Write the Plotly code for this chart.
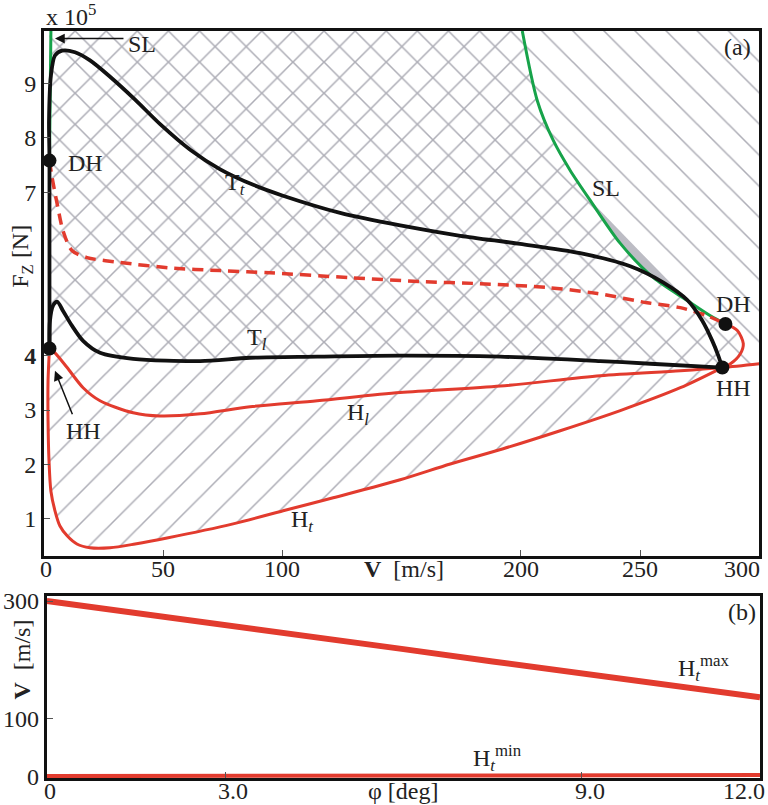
import plotly.graph_objects as go

# ---------------- data (top panel: V [m/s], Fz [x1e5 N]) ----------------
V_RANGE = [0, 300]
F_RANGE = [0.32, 9.96]
PHI_RANGE = [0, 12]
VB_RANGE = [-1.7, 308.5]

tt_v = [2.3, 2.3, 2.1, 2.9, 4.6, 7.6, 13.0, 19.3, 27.7, 38.2, 48.7, 61.3, 73.9, 88.0, 99.9,
        124.2, 149.4, 174.6, 199.7, 224.9, 245.9, 259.8, 269.8, 276.1, 280.3, 282.8, 284.5]
tt_f = [4.13, 7.58, 8.32, 9.14, 9.51, 9.60, 9.57, 9.42, 9.12, 8.70, 8.25, 7.78, 7.42, 7.13, 6.94,
        6.62, 6.39, 6.20, 6.05, 5.88, 5.64, 5.34, 5.02, 4.64, 4.27, 4.00, 3.78]

tl_v = [2.3, 2.5, 3.8, 5.5, 8.0, 11.7, 16.4, 23.5, 37.4, 65.5, 86.4, 114.6, 149.4, 191.4,
        233.3, 254.3, 284.5]
tl_f = [4.13, 4.64, 4.92, 4.99, 4.82, 4.55, 4.27, 4.05, 3.94, 3.90, 3.96, 3.98, 4.00, 3.98,
        3.90, 3.85, 3.78]

dash_v = [2.3, 3.4, 5.5, 8.0, 11.7, 18.0, 31.9, 52.9, 73.9, 94.8, 128.4, 157.8, 183.0, 211.1,
          232.1, 253.0, 266.9, 278.2, 285.8]
dash_f = [7.58, 7.27, 6.79, 6.29, 5.93, 5.80, 5.71, 5.61, 5.56, 5.52, 5.43, 5.36, 5.32, 5.25,
          5.14, 4.97, 4.88, 4.73, 4.58]

loop_v = [285.8, 290.8, 293.3, 292.0, 287.9, 284.5]
loop_f = [4.58, 4.46, 4.22, 4.03, 3.85, 3.78]

hl_v = [2.3, 4.6, 9.7, 16.4, 23.5, 37.4, 48.7, 65.5, 86.4, 114.6, 149.4, 191.4, 233.3, 266.9,
        284.5, 300.0]
hl_f = [4.13, 4.05, 3.78, 3.41, 3.17, 2.95, 2.89, 2.93, 3.06, 3.17, 3.32, 3.44, 3.63, 3.72,
        3.78, 3.85]

ht_v = [2.3, 1.7, 1.7, 2.1, 2.9, 4.6, 6.7, 9.7, 13.8, 19.3, 27.7, 38.2, 51.6, 79.3, 100.3,
        121.3, 149.4, 170.4, 192.6, 216.5, 241.7, 266.9, 284.5]
ht_f = [4.13, 3.54, 2.80, 2.07, 1.51, 1.15, 0.87, 0.69, 0.54, 0.47, 0.47, 0.54, 0.65, 0.91, 1.15,
        1.39, 1.72, 2.01, 2.29, 2.62, 2.99, 3.41, 3.78]

sl1_v = [2.9, 2.7, 2.5, 2.3]
sl1_f = [9.96, 9.2, 8.4, 7.58]

sl2_v = [200.6, 206.9, 213.6, 220.7, 229.1, 241.7, 255.6, 269.8, 279.5, 285.8]
sl2_f = [9.96, 8.68, 7.95, 7.40, 6.85, 6.06, 5.43, 5.01, 4.73, 4.58]

dh_v = [2.3, 285.8]
dh_f = [7.58, 4.58]
hh_v = [2.3, 284.5]
hh_f = [4.13, 3.78]

# bottom panel
phi = [0, 1.5, 3, 4.5, 6, 7.5, 9, 10.5, 12]
ht_max = [300, 280, 259, 238, 218, 197, 177, 156, 136]
ht_min = [1.5, 1.6, 1.8, 2.0, 2.2, 2.5, 2.8, 3.1, 3.4]

top_xticks = [0, 50, 100, 200, 250, 300]
top_xtext = ["0", "50", "100", "200", "250", "300"]
top_yticks = [1, 2, 3, 4, 7, 8, 9]
top_ytext = ["1", "2", "3", "<b>4</b>", "7", "8", "9"]
bot_xticks = [0, 3, 9, 12]
bot_xtext = ["0", "3.0", "9.0", "12.0"]
bot_yticks = [0, 100, 300]
bot_ytext = ["0", "100", "300"]

RED = "#e23b2e"
GREEN = "#17a34a"
BLACK = "#111111"
HATCH = "#adadb6"
FONT = "Liberation Serif"
FS = 24

fig = go.Figure()

# hatched regions
top = F_RANGE[1]
bs_x = [tl_v[0]] + tl_v + [v for v in hl_v if v > tl_v[-1]] + [V_RANGE[1], tl_v[0]]
bs_y = [top] + tl_f + [f for v, f in zip(hl_v, hl_f) if v > tl_v[-1]] + [top, top]
fig.add_trace(go.Scatter(x=bs_x, y=bs_y, fill="toself", mode="lines", line=dict(width=0),
                         fillcolor="rgba(0,0,0,0)",
                         fillpattern=dict(shape="\\", size=22, solidity=0.07, fgcolor=HATCH,
                                          bgcolor="rgba(0,0,0,0)", fgopacity=1),
                         hoverinfo="skip", showlegend=False))
fs_x = [ht_v[0]] + ht_v + loop_v[::-1] + sl2_v[::-1] + [ht_v[0]]
fs_y = [top] + ht_f + loop_f[::-1] + sl2_f[::-1] + [top]
fig.add_trace(go.Scatter(x=fs_x, y=fs_y, fill="toself", mode="lines", line=dict(width=0),
                         fillcolor="rgba(0,0,0,0)",
                         fillpattern=dict(shape="/", size=22, solidity=0.07, fgcolor=HATCH,
                                          bgcolor="rgba(0,0,0,0)", fgopacity=1),
                         hoverinfo="skip", showlegend=False))
# gray wedge along SL
wx = sl2_v[4:8] + [sl2_v[4]]
wy = sl2_f[4:8] + [sl2_f[4]]
fig.add_trace(go.Scatter(x=wx, y=wy, fill="toself", mode="lines", line=dict(width=0),
                         fillcolor="#bcbcc4", hoverinfo="skip", showlegend=False))

def line(x, y, color, width, dash=None, xa="x", ya="y", shape="spline"):
    fig.add_trace(go.Scatter(x=x, y=y, mode="lines", xaxis=xa, yaxis=ya,
                             line=dict(color=color, width=width, dash=dash, shape=shape,
                                       smoothing=0.8),
                             hoverinfo="skip", showlegend=False))

line(sl1_v, sl1_f, GREEN, 3)
line(sl2_v, sl2_f, GREEN, 3)
line(ht_v, ht_f, RED, 3)
line(hl_v, hl_f, RED, 3)
line(loop_v, loop_f, RED, 3)
line(dash_v, dash_f, RED, 3.5, dash="11px,7px")
line(tl_v, tl_f, BLACK, 3.8)
line(tt_v, tt_f, BLACK, 3.8)

fig.add_trace(go.Scatter(x=dh_v + hh_v, y=dh_f + hh_f, mode="markers",
                         marker=dict(color=BLACK, size=14), hoverinfo="skip", showlegend=False))

# bottom panel
line(phi, ht_max, RED, 6, xa="x2", ya="y2", shape="linear")
line(phi, ht_min, RED, 4, xa="x2", ya="y2", shape="linear")

axis_common = dict(showline=True, linewidth=3, linecolor=BLACK, mirror=True, ticks="inside",
                   ticklen=6, tickwidth=1, tickcolor="#555", showgrid=False, zeroline=False,
                   automargin=False,
                   tickfont=dict(family=FONT, size=FS, color="#222"))

fig.update_layout(
    width=768, height=805, margin=dict(l=44, r=8, t=31, b=27, autoexpand=False),
    paper_bgcolor="white", plot_bgcolor="white", showlegend=False,
    font=dict(family=FONT, size=FS, color="#222"),
    xaxis=dict(domain=[0, 0.999], range=V_RANGE, anchor="y", tickvals=top_xticks,
               showticklabels=False, **axis_common),
    yaxis=dict(domain=[0.2972, 1], range=F_RANGE, anchor="x", tickvals=top_yticks,
               ticktext=top_ytext, **axis_common),
    xaxis2=dict(domain=[0.004, 1], range=PHI_RANGE, anchor="y2", tickvals=bot_xticks,
                showticklabels=False, **axis_common),
    yaxis2=dict(domain=[0, 0.2436], range=VB_RANGE, anchor="x2", tickvals=bot_yticks,
                ticktext=bot_ytext, **axis_common),
)

tf = dict(family=FONT, size=FS, color="#222")
ann = []
def txt(x, y, s, xref="x", yref="y", **kw):
    d = dict(x=x, y=y, text=s, xref=xref, yref=yref, showarrow=False, font=tf,
             xanchor="center", yanchor="middle")
    d.update(kw)
    ann.append(d)

# x tick labels (placed as text just below the axes)
top_shift = [2, 0, 0, 0, 0, -17]
for v, s, sh in zip(top_xticks, top_xtext, top_shift):
    txt(v, -0.0248, s, yref="y domain", xshift=sh)
bot_shift = [3, 8, 8, -16]
for v, s, sh in zip(bot_xticks, bot_xtext, bot_shift):
    txt(v, -0.0714, s, xref="x2", yref="y2 domain", xshift=sh)

txt(41.2, 9.73, "SL")
txt(17.2, 7.53, "DH")
txt(80, 7.15, "T<sub><i>t</i></sub>")
txt(89.5, 4.31, "T<sub><i>l</i></sub>")
txt(131.5, 2.93, "H<sub><i>l</i></sub>")
txt(108.4, 0.96, "H<sub><i>t</i></sub>")
txt(235.7, 7.08, "SL")
txt(289, 4.95, "DH")
txt(289, 3.41, "HH")
txt(16.4, 2.62, "HH")
txt(291, 9.66, "(a)")
txt(151, -0.0248, "<b>V</b>  [m/s]", yref="y domain")
txt(-0.031, 5.83, "F<sub>Z</sub> [N]", xref="x domain", textangle=-90)
txt(0.0, 1.021, "x 10<sup>5</sup>", xref="paper", yref="paper", xanchor="left")
# bottom
txt(11.7, 281, "(b)", xref="x2", yref="y2")
txt(11.05, 186, "H<sub><i>t</i></sub><sup>max</sup>", xref="x2", yref="y2")
txt(7.58, 32, "H<sub><i>t</i></sub><sup>min</sup>", xref="x2", yref="y2")
txt(6.0, -0.0714, "φ [deg]", xref="x2", yref="y2 domain")
txt(-0.035, 200, "<b>V</b>  [m/s]", xref="x2 domain", yref="y2", textangle=-90)

# arrows
ann.append(dict(x=4.6, y=9.82, xref="x", yref="y", ax=70, ay=0, text="", showarrow=True,
                arrowhead=2, arrowsize=1.3, arrowwidth=1.5, arrowcolor=BLACK))
ann.append(dict(x=4.6, y=3.72, xref="x", yref="y", ax=18, ay=45, text="", showarrow=True,
                arrowhead=2, arrowsize=1.3, arrowwidth=1.5, arrowcolor=BLACK))
fig.update_layout(annotations=ann)

fig.write_html("out.html", config={"displayModeBar": False},
               post_script="document.body.style.margin='0';document.body.style.padding='0';"
                           "document.documentElement.style.overflow='hidden';")
